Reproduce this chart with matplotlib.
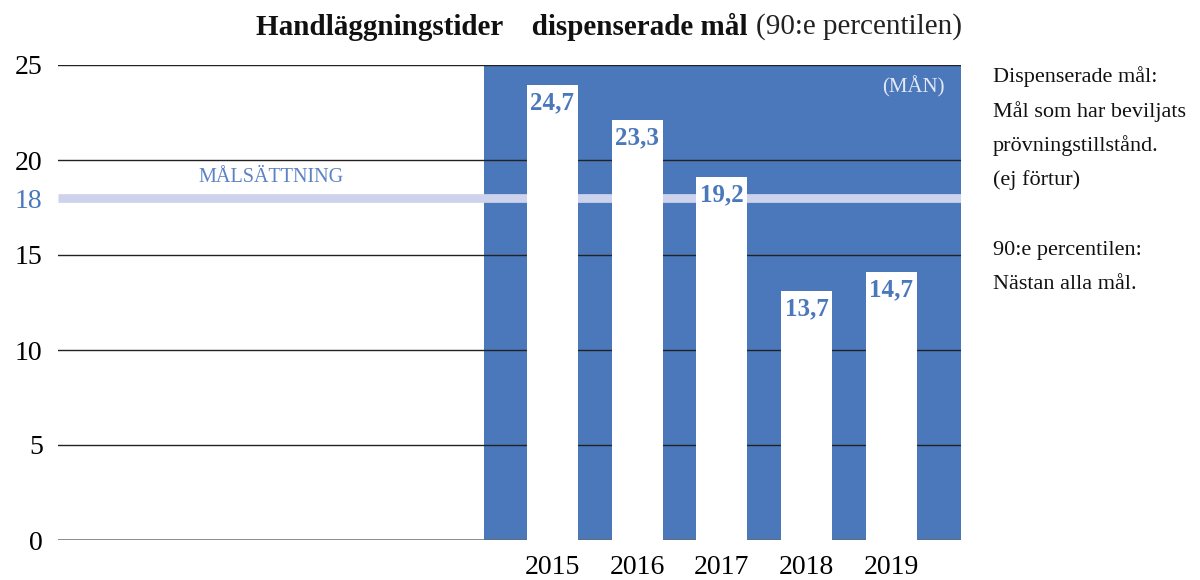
import matplotlib
matplotlib.use("Agg")
import matplotlib.pyplot as plt
import matplotlib.transforms as mtransforms

# ---- data ----
years = ["2015", "2016", "2017", "2018", "2019"]
bar_heights = [23.95, 22.1, 19.1, 13.1, 14.1]      # drawn bar heights
value_labels = ["24,7", "23,3", "19,2", "13,7", "14,7"]
goal_value = 18
y_ticks = [0, 5, 10, 15, 18, 20, 25]
y_tick_labels = ["0", "5", "10", "15", "18", "20", "25"]
side_lines = ["Dispenserade mål:", "Mål som har beviljats", "prövningstillstånd.",
              "(ej förtur)", "", "90:e percentilen:", "Nästan alla mål."]

BLUE = "#4a78ba"
GOAL = "#cdd3ec"
FONT = "Liberation Serif"
plt.rcParams["font.family"] = [FONT, "DejaVu Serif"]

W, H = 1200, 580
fig = plt.figure(figsize=(W / 100, H / 100), dpi=100)
L, R, B, T = 58, 961, 540, 65
ax = fig.add_axes([L / W, 1 - B / H, (R - L) / W, (B - T) / H])

x = list(range(len(years)))
ax.set_xlim(-5.83, 4.82)
ax.set_ylim(0, 25)

# blue background panel behind the bars
ax.axvspan(x[0] - 0.81, ax.get_xlim()[1], color=BLUE, zorder=0, lw=0)

# gridlines
for t in [5, 10, 15, 20, 25]:
    ax.axhline(t, color="#222222", lw=1.0, zorder=1)
ax.axhline(0, color="#6b6b6b", lw=1.8, zorder=1)

# goal line
ax.axhline(goal_value, color=GOAL, lw=6.3, zorder=2, solid_capstyle="butt")

bars = ax.bar(x, bar_heights, width=0.6, color="white", zorder=3, lw=0)
for xi, h, lab in zip(x, bar_heights, value_labels):
    ax.annotate(lab, (xi, h), xytext=(0, -13), textcoords="offset points",
                ha="center", va="center", fontsize=18, fontweight="bold",
                color=BLUE, zorder=5)

for s in ax.spines.values():
    s.set_visible(False)

ax.set_xticks(x)
ax.set_xticklabels(years, fontsize=20)
ax.set_yticks(y_ticks)
ax.set_yticklabels(y_tick_labels, fontsize=20)
ax.tick_params(axis="both", length=0)
ax.tick_params(axis="y", pad=11)
ax.tick_params(axis="x", pad=11)
for lbl, t in zip(ax.get_yticklabels(), y_ticks):
    if t == goal_value:
        lbl.set_color(BLUE)

trans = mtransforms.blended_transform_factory(ax.transAxes, ax.transData)
ax.text(0.236, 19.1, "MÅLSÄTTNING", transform=trans, ha="center", va="center",
        fontsize=14.5, color="#5a82c4")
ax.text(0.982, 0.955, "(MÅN)", transform=ax.transAxes, ha="right", va="center",
        fontsize=15, color="#e4e8f5")

# side text, one line at a time with even spacing
for i, line in enumerate(side_lines):
    if line:
        fig.text(993 / W, 1 - (82 + 34.5 * i) / H, line, ha="left", va="baseline",
                 fontsize=16, color="#111111")

# title: bold part + regular part, right aligned to the axes right edge
fig.canvas.draw()
r = fig.canvas.get_renderer()
t2 = fig.text(962 / W, 1 - 27 / H, "(90:e percentilen)", ha="right", va="center",
              fontsize=21, color="#222222")
bb = t2.get_window_extent(renderer=r)
fig.text((bb.x0 - 8) / W, 1 - 27 / H, "Handläggningstider    dispenserade mål",
         ha="right", va="center", fontsize=21, fontweight="bold", color="#111111")

fig.savefig("out.png", dpi=100)
